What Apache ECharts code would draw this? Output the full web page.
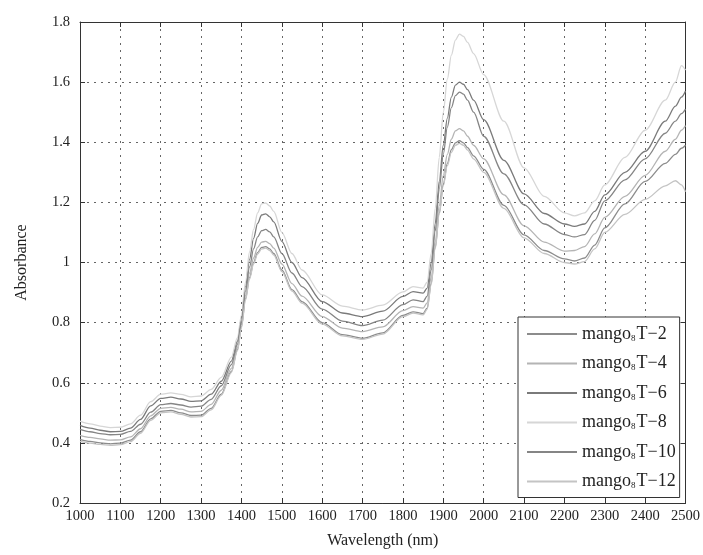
<!DOCTYPE html>
<html>
<head>
<meta charset="utf-8">
<title>mango spectra</title>
<script src="https://cdn.jsdelivr.net/npm/echarts@6/dist/echarts.min.js"></script>
<style>
  html, body { margin: 0; padding: 0; background: #fff; }
  #chart { width: 703px; height: 555px; }
</style>
</head>
<body>
<div id="chart"></div>
<script>
// wavelength grid (nm)
const wavelengths = [1000,1025,1050,1075,1100,1125,1150,1175,1200,1225,1250,1275,1300,1325,1350,1375,1390,1400,1410,1420,
  1430,1440,1450,1460,1470,1480,1500,1525,1550,1600,1650,1700,1750,1800,1825,1850,1860,1870,1880,1890,
  1900,1910,1920,1930,1940,1950,1960,1975,2000,2050,2100,2150,2200,2225,2250,2275,2300,2350,2400,2450,
  2475,2490,2500]

const absT2 = [.412,.405,.400,.397,.399,.409,.437,.480,.505,.508,.500,.491,.492,.515,.562,.638,.710,.787,.880,.950,
  1.000,1.033,1.050,1.053,1.045,1.030,.975,.910,.870,.800,.760,.748,.766,.824,.836,.830,.848,.930,1.050,1.165,
  1.260,1.330,1.375,1.398,1.405,1.398,1.382,1.355,1.310,1.190,1.092,1.040,1.012,1.005,1.015,1.058,1.115,1.195,1.270,1.330,
  1.360,1.380,1.390]
const absT4 = [.425,.418,.413,.409,.410,.420,.447,.490,.515,.518,.512,.503,.505,.528,.575,.648,.718,.795,.890,.965,
  1.015,1.050,1.068,1.070,1.063,1.048,.995,.930,.888,.820,.782,.770,.786,.840,.853,.848,.866,.950,1.070,1.190,
  1.290,1.360,1.410,1.438,1.445,1.438,1.420,1.390,1.345,1.225,1.122,1.068,1.038,1.040,1.053,1.095,1.150,1.220,1.290,1.370,
  1.410,1.440,1.455]
const absT6 = [.458,.449,.442,.437,.438,.449,.478,.523,.548,.552,.546,.538,.540,.562,.605,.672,.738,.815,.920,1.010,
  1.080,1.130,1.158,1.162,1.152,1.135,1.070,1.000,.950,.870,.832,.820,.838,.887,.903,.898,.915,1.000,1.130,1.270,
  1.390,1.480,1.550,1.590,1.600,1.593,1.575,1.540,1.475,1.340,1.228,1.163,1.128,1.120,1.128,1.170,1.225,1.300,1.370,1.470,
  1.520,1.550,1.570]
const absT8 = [.472,.463,.456,.451,.452,.463,.492,.537,.562,.566,.561,.553,.556,.578,.618,.685,.750,.825,.935,1.035,
  1.110,1.165,1.195,1.198,1.188,1.170,1.100,1.030,.975,.892,.855,.842,.858,.902,.920,.915,.935,1.030,1.180,1.350,
  1.500,1.610,1.690,1.740,1.760,1.752,1.732,1.695,1.625,1.470,1.315,1.220,1.165,1.155,1.165,1.205,1.258,1.350,1.440,1.540,
  1.600,1.655,1.640]
const absT10 = [.445,.437,.431,.427,.428,.438,.462,.502,.527,.531,.526,.519,.522,.545,.590,.660,.728,.805,.905,.985,
  1.045,1.085,1.106,1.110,1.102,1.085,1.030,.965,.920,.845,.805,.790,.808,.860,.876,.870,.888,.975,1.105,1.245,
  1.360,1.450,1.515,1.555,1.567,1.560,1.540,1.500,1.420,1.295,1.192,1.128,1.093,1.085,1.093,1.140,1.205,1.275,1.345,1.430,
  1.470,1.495,1.510]
const absT12 = [.405,.399,.395,.392,.394,.404,.432,.475,.500,.503,.495,.486,.487,.510,.558,.634,.706,.782,.875,.945,
  .995,1.028,1.045,1.048,1.040,1.025,.970,.905,.865,.795,.756,.744,.762,.820,.832,.826,.844,.925,1.045,1.160,
  1.255,1.322,1.366,1.390,1.396,1.390,1.374,1.345,1.300,1.180,1.082,1.030,1.000,.995,1.003,1.045,1.100,1.160,1.210,1.255,
  1.272,1.258,1.235]

const sampleTags = ['T−2', 'T−4', 'T−6', 'T−8', 'T−10', 'T−12']
const sampleValues = [absT2, absT4, absT6, absT8, absT10, absT12]
const lineColors = ['#8c8c8c', '#b4b4b4', '#7a7a7a', '#d6d6d6', '#858585', '#c4c4c4']

const serif = 'Liberation Serif'
const chart = echarts.init(document.getElementById('chart'))

const series = sampleTags.map((tag, i) => ({
  name: 'mango8' + tag,
  type: 'line',
  data: wavelengths.map((w, k) => [w, sampleValues[i][k]]),
  showSymbol: false,
  symbol: 'none',
  smooth: 0.3,
  smoothMonotone: 'x',
  lineStyle: { color: lineColors[i], width: 1.3 },
  itemStyle: { color: lineColors[i] }
}))

const boxAxis = {
  axisLine: { show: true, lineStyle: { color: '#333', width: 1 } },
  axisTick: { show: true, inside: true, length: 5, lineStyle: { color: '#333' } },
  splitLine: { show: false }
}

const option = {
  animation: false,
  backgroundColor: '#fff',
  grid: { left: 80, right: 17, top: 22, bottom: 52 },
  xAxis: [
    {
      type: 'value', min: 1000, max: 2500, interval: 100,
      name: 'Wavelength (nm)', nameLocation: 'middle', nameGap: 30,
      nameTextStyle: { fontFamily: serif, fontSize: 16, color: '#222' },
      axisLabel: { fontFamily: serif, fontSize: 14.5, color: '#222', margin: 6, formatter: v => String(v) },
      axisLine: { show: true, lineStyle: { color: '#333', width: 1 } },
      axisTick: { show: true, inside: true, length: 5, lineStyle: { color: '#333' } },
      splitLine: { show: true, lineStyle: { color: '#666', type: [2, 5], width: 1 } }
    },
    Object.assign({ type: 'value', position: 'top', min: 1000, max: 2500, interval: 100,
      axisLabel: { show: false } }, boxAxis)
  ],
  yAxis: [
    {
      type: 'value', min: 0.2, max: 1.8, interval: 0.2,
      name: 'Absorbance', nameLocation: 'middle', nameGap: 50, nameRotate: 90,
      nameTextStyle: { fontFamily: serif, fontSize: 16, color: '#222' },
      axisLabel: { fontFamily: serif, fontSize: 14.5, color: '#222', margin: 10 },
      axisLine: { show: true, lineStyle: { color: '#333', width: 1 } },
      axisTick: { show: true, inside: true, length: 5, lineStyle: { color: '#333' } },
      splitLine: { show: true, lineStyle: { color: '#666', type: [2, 5], width: 1 } }
    },
    Object.assign({ type: 'value', position: 'right', min: 0.2, max: 1.8, interval: 0.2,
      axisLabel: { show: false } }, boxAxis)
  ],
  legend: {
    orient: 'vertical',
    left: 518, top: 317,
    padding: [8, 4, 7, 9],
    itemGap: 11.5,
    itemWidth: 50,
    itemHeight: 2,
    icon: 'rect',
    backgroundColor: '#fff',
    borderColor: '#333',
    borderWidth: 1,
    borderRadius: 0,
    data: series.map(s => s.name),
    formatter: name => '{a|mango}{s|8}{a|' + name.slice(6) + '}',
    textStyle: {
      fontFamily: serif,
      color: '#222',
      rich: {
        a: { fontFamily: serif, fontSize: 18, color: '#222', lineHeight: 18 },
        s: { fontFamily: serif, fontSize: 9, color: '#222', verticalAlign: 'bottom', padding: [6, 1, 0, 0] }
      }
    }
  },
  series: series
}

chart.setOption(option)
</script>
</body>
</html>
